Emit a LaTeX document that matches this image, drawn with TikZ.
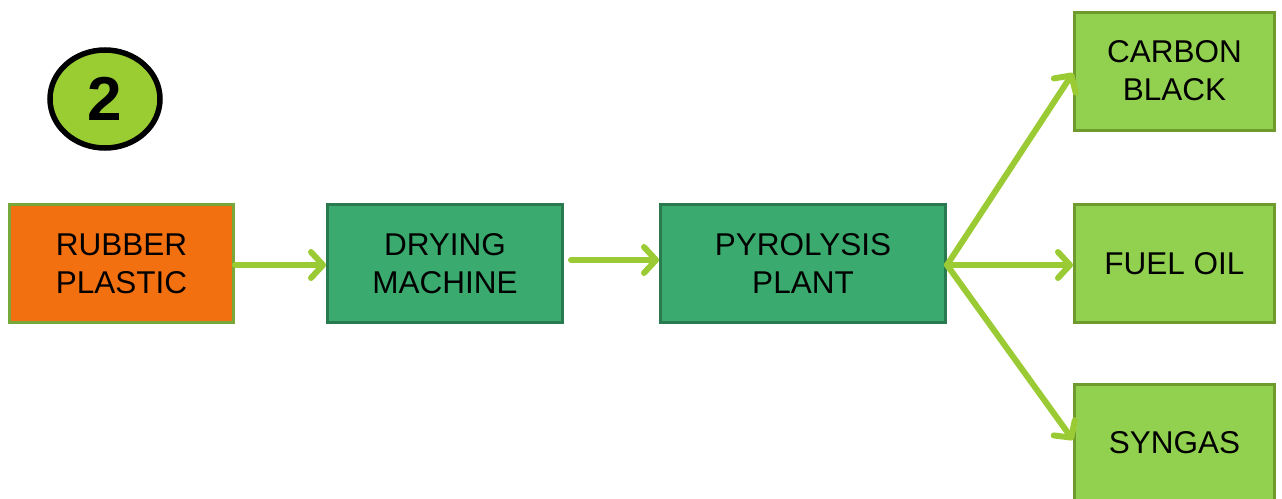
\documentclass[tikz,border=0pt]{standalone}
\usepackage{fontspec}
\setmainfont{Liberation Sans}
\usetikzlibrary{arrows.meta,shapes.geometric}
\definecolor{orangefill}{HTML}{F37010}
\definecolor{orangeline}{HTML}{78A83A}
\definecolor{darkfill}{HTML}{3AAA6E}
\definecolor{darkline}{HTML}{2A7A50}
\definecolor{lightfill}{HTML}{92D050}
\definecolor{lightline}{HTML}{6E9A2E}
\definecolor{arrowgreen}{HTML}{9BCB34}
\definecolor{circlefill}{HTML}{9ACD32}
\tikzset{
  box/.style={rectangle, line width=3pt, inner sep=0pt, align=center,
    font=\fontsize{31.5}{38}\selectfont, text=black, minimum height=118pt},
  rawbox/.style={box, fill=orangefill, draw=orangeline},
  procbox/.style={box, fill=darkfill, draw=darkline},
  prodbox/.style={box, fill=lightfill, draw=lightline, minimum width=200pt},
  flow/.style={draw=arrowgreen, line width=6pt, line cap=round,
    -{Straight Barb[length=12pt,width=26pt,line cap=round,line join=round]}},
  badge/.style={ellipse, draw=black, line width=5.5pt, fill=circlefill,
    minimum width=110pt, minimum height=98pt, inner sep=0pt,
    font=\fontsize{62}{62}\selectfont\bfseries}
}
\begin{document}
\begin{tikzpicture}[x=1pt,y=-1pt]
\useasboundingbox (0,0) rectangle (1282,498);
\node[badge] (num) at (105,99) {2};
\node[rawbox, minimum width=224pt] (rubber) at (121.5,263.5) {RUBBER\\PLASTIC};
\node[procbox, minimum width=235pt] (dry) at (445,263.5) {DRYING\\MACHINE};
\node[procbox, minimum width=285pt] (pyro) at (803,263.5) {PYROLYSIS\\PLANT};
\node[prodbox] (carbon) at (1174.5,71) {CARBON\\BLACK};
\node[prodbox] (fuel) at (1174.5,263.5) {FUEL OIL};
\node[prodbox] (syngas) at (1174.5,443) {SYNGAS};
\coordinate (pyroout) at (947,265);
\draw[flow] (rubber.east |- 0,265) -- (dry.west |- 0,265);
\draw[flow, shorten <=7pt] (dry.east |- 0,260) -- (pyro.west |- 0,260);
\draw[flow] (pyroout) -- (carbon.west |- 0,73);
\draw[flow] (pyroout) -- (fuel.west |- 0,265);
\draw[flow] (pyroout) -- (syngas.west |- 0,440);
\end{tikzpicture}
\end{document}
